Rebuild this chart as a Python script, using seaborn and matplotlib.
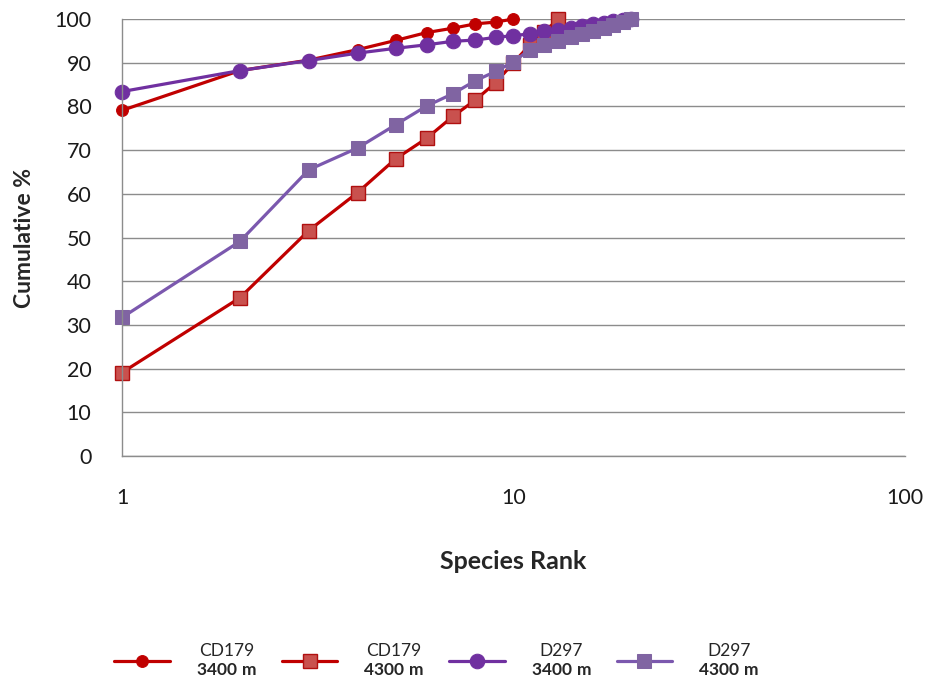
import matplotlib
matplotlib.use("Agg")
import matplotlib.pyplot as plt
import seaborn as sns
import pandas as pd

# Cumulative dominance curves (k-dominance) by species rank
rank_cd179_3400 = [1, 2, 3, 4, 5, 6, 7, 8, 9, 10]
cum_cd179_3400 = [79.1, 88.2, 90.6, 93.0, 95.1, 96.9, 97.9, 98.9, 99.3, 100.0]

rank_cd179_4300 = [1, 2, 3, 4, 5, 6, 7, 8, 9, 10, 11, 12, 13]
cum_cd179_4300 = [19.1, 36.2, 51.6, 60.3, 68.0, 72.7, 77.7, 81.5, 85.4, 90.0, 94.0, 97.0, 100.0]

rank_d297_3400 = list(range(1, 21))
cum_d297_3400 = [83.4, 88.2, 90.5, 92.2, 93.3, 94.1, 94.9, 95.2, 95.8, 96.2,
                 96.6, 97.2, 97.6, 98.0, 98.4, 98.8, 99.2, 99.5, 99.8, 100.0]

rank_d297_4300 = list(range(1, 21))
cum_d297_4300 = [31.7, 49.1, 65.5, 70.5, 75.8, 80.1, 82.9, 85.9, 88.0, 90.2,
                 93.0, 94.1, 95.0, 95.8, 96.5, 97.2, 98.0, 98.7, 99.4, 100.0]

series_names = ["CD179\n$\\mathbf{3400\\ m}$", "CD179\n$\\mathbf{4300\\ m}$",
                "D297\n$\\mathbf{3400\\ m}$", "D297\n$\\mathbf{4300\\ m}$"]
y_ticks = [0, 10, 20, 30, 40, 50, 60, 70, 80, 90, 100]
x_ticks = [1, 10, 100]
x_tick_labels = ["1", "10", "100"]

sns.set_theme(style="white")
plt.rcParams["font.family"] = ["Lato", "DejaVu Sans"]
plt.rcParams["mathtext.fontset"] = "custom"
plt.rcParams["mathtext.rm"] = "Lato"
plt.rcParams["mathtext.bf"] = "Lato:bold"

fig = plt.figure(figsize=(9.28, 6.92), dpi=100)
ax = fig.add_axes([0.1315, 0.341, 0.8435, 0.6315])

styles = [
    dict(color="#C00000", marker="o", markersize=8.5, markerfacecolor="#C00000",
         markeredgecolor="#C00000"),
    dict(color="#C00000", marker="s", markersize=9.5, markerfacecolor="#C9514E",
         markeredgecolor="#B01010", markeredgewidth=1.0),
    dict(color="#7030A0", marker="o", markersize=10.5, markerfacecolor="#7030A0",
         markeredgecolor="#7030A0"),
    dict(color="#7B58AE", marker="s", markersize=10, markerfacecolor="#8064A2",
         markeredgecolor="#8064A2"),
]
data = [(rank_cd179_3400, cum_cd179_3400), (rank_cd179_4300, cum_cd179_4300),
        (rank_d297_3400, cum_d297_3400), (rank_d297_4300, cum_d297_4300)]

for (xs, ys), name, st in zip(data, series_names, styles):
    df = pd.DataFrame({"rank": xs, "cum": ys})
    sns.lineplot(data=df, x="rank", y="cum", ax=ax, label=name, linewidth=2.3,
                 estimator=None, sort=False, **st)

ax.set_xscale("log")
ax.set_xlim(1, 100)
ax.set_ylim(0, 100)
ax.set_yticks(y_ticks)
ax.set_xticks(x_ticks)
ax.set_xticklabels(x_tick_labels)
ax.minorticks_off()
ax.tick_params(axis="both", length=0, labelsize=15.5, colors="#1a1a1a")
ax.tick_params(axis="y", pad=22)
ax.tick_params(axis="x", pad=23)

ax.yaxis.grid(True, color="#8C8C8C", linewidth=1.0)
ax.xaxis.grid(False)
ax.set_axisbelow(True)
for side in ["top", "right"]:
    ax.spines[side].set_visible(False)
for side in ["left", "bottom"]:
    ax.spines[side].set_color("#8C8C8C")
    ax.spines[side].set_linewidth(1.0)
for ln in ax.get_lines():
    ln.set_clip_on(False)

ax.set_xlabel("Species Rank", fontsize=18, fontweight="bold", labelpad=30)
ax.set_ylabel("Cumulative %", fontsize=16.5, fontweight="bold", labelpad=14)

ax.get_legend().remove()
handles, labels = ax.get_legend_handles_labels()
leg = fig.legend(handles, labels, loc="center", bbox_to_anchor=(0.471, 0.045),
                 ncol=4, frameon=False, fontsize=12.5, handlelength=3.2,
                 columnspacing=1.4, handletextpad=1.5)
for t in leg.get_texts():
    t.set_multialignment("center")
    t.set_linespacing(1.25)

fig.savefig("out.png", dpi=100)
